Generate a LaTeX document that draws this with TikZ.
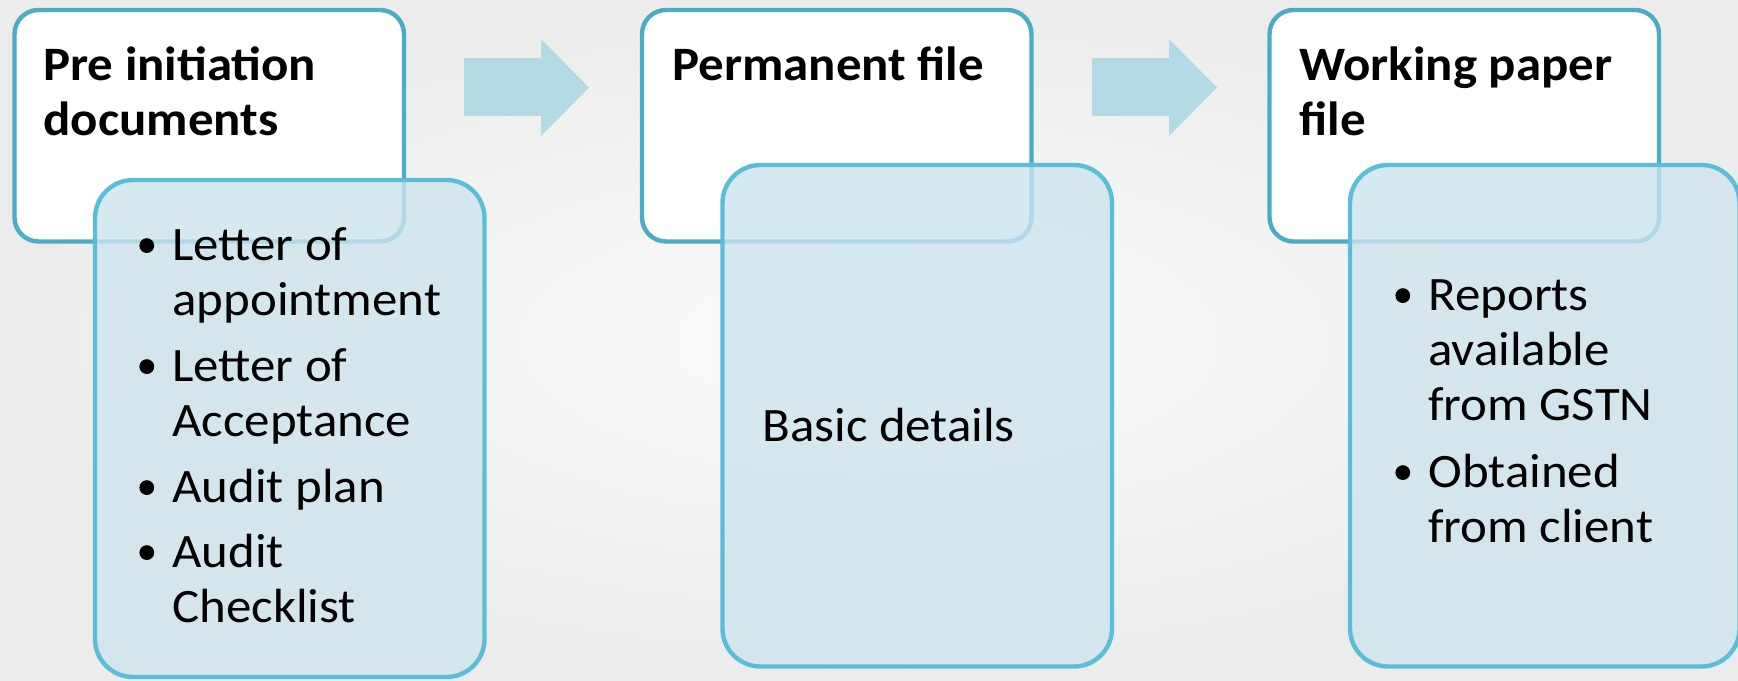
\documentclass[tikz,border=0pt]{standalone}
\usepackage{fontspec}
\setmainfont{Carlito}[FakeStretch=1.06]
\definecolor{wborder}{RGB}{75,172,198}
\definecolor{bborder}{RGB}{91,190,216}
\definecolor{bfill}{RGB}{206,228,237}
\definecolor{arrowc}{RGB}{180,218,230}
\definecolor{bgin}{RGB}{252,252,252}
\definecolor{bgout}{RGB}{236,236,236}
\newcommand{\bul}{\makebox[19pt][l]{\hspace{2.5pt}\tikz[x=1pt,y=1pt,baseline=0pt]{\fill[black] (3.7,7.2) circle[radius=3.7];}}}
\begin{document}
\begin{tikzpicture}[x=0.5pt,y=-0.5pt,
  whitebox/.style={draw=wborder, line width=2.2pt, fill=white, rounded corners=12pt,
    inner sep=0pt, minimum width=194.75pt, minimum height=115.75pt},
  bluebox/.style={draw=bborder, line width=2.2pt, fill=bfill, fill opacity=0.8,
    draw opacity=1, rounded corners=19pt, inner sep=0pt, minimum width=194.75pt},
  title/.style={font=\fontsize{24}{27.5}\selectfont\bfseries, anchor=base west, inner sep=0pt},
  body/.style={font=\fontsize{24}{27.5}\selectfont, anchor=base west, inner sep=0pt},
  flow/.style={fill=arrowc, draw=none}]
\useasboundingbox (0,0) rectangle (1738,680);
\shade[inner color=bgin, outer color=bgout] (0,0) rectangle (1738,680);

% arrows
\fill[flow] (464,58) -- (541,58) -- (541,39) -- (589,87.5) -- (541,136) -- (541,116) -- (464,116) -- cycle;
\fill[flow] (1092,58) -- (1169,58) -- (1169,39) -- (1217,87.5) -- (1169,136) -- (1169,116) -- (1092,116) -- cycle;

% column 1
\node[whitebox] (w1) at (209.25,125.75) {};
\node[title] (t1) at (43,80) {\begin{tabular}[t]{@{}l@{}}Pre initiation\\documents\end{tabular}};
\node[bluebox, minimum height=248.5pt] (b1) at (289.75,428.5) {};
\node[body] (l1) at (134,260) {\begin{tabular}[t]{@{}l@{}l@{}}
\bul & Letter of\\
 & appointment\\[5.5pt]
\bul & Letter of\\
 & Acceptance\\[5.5pt]
\bul & Audit plan\\[5pt]
\bul & Audit\\
 & Checklist
\end{tabular}};

% column 2
\node[whitebox] (w2) at (836.75,125.75) {};
\node[title] (t2) at (672,80) {Permanent file};
\node[bluebox, minimum height=250.75pt] (b2) at (917.25,415.75) {};
\node[body] (l2) at (762,441) {Basic details};

% column 3
\node[whitebox] (w3) at (1464.25,125.75) {};
\node[title] (t3) at (1299,80) {\begin{tabular}[t]{@{}l@{}}Working paper\\file\end{tabular}};
\node[bluebox, minimum height=250.75pt] (b3) at (1544.75,415.75) {};
\node[body] (l3) at (1390,310) {\begin{tabular}[t]{@{}l@{}l@{}}
\bul & Reports\\
 & available\\
 & from GSTN\\[6pt]
\bul & Obtained\\
 & from client
\end{tabular}};
\end{tikzpicture}
\end{document}
